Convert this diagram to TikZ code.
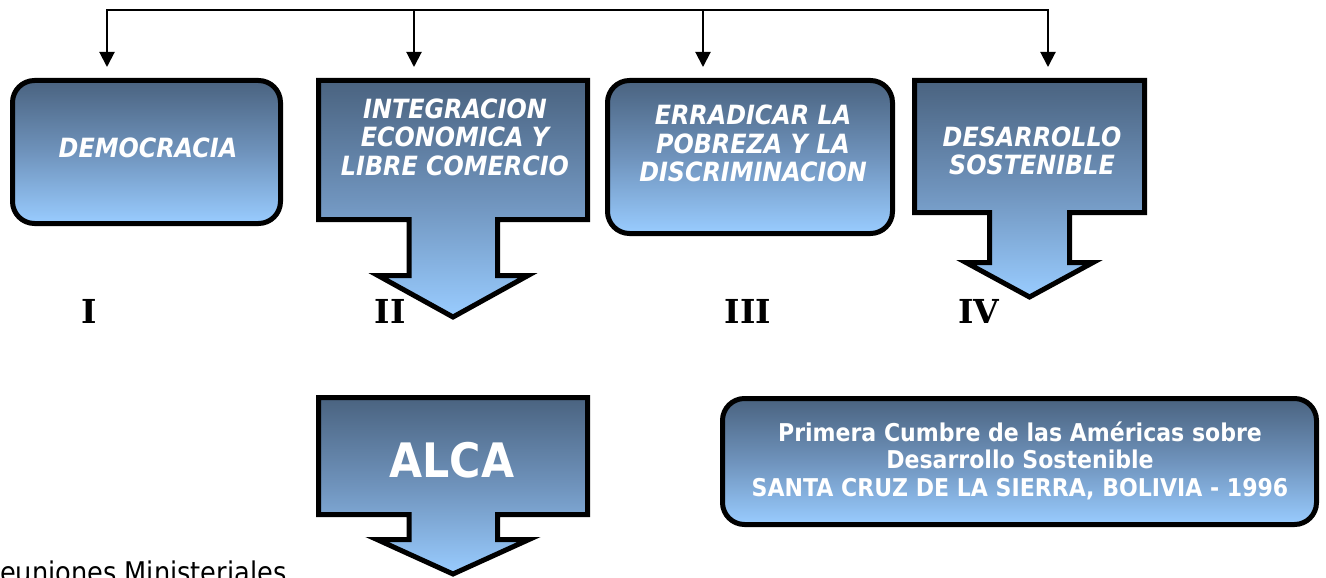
\documentclass[tikz,border=0pt]{standalone}
\usepackage{fontspec}
\setmainfont{DejaVu Sans}
\newfontfamily\tah[FakeStretch=0.9]{DejaVu Sans}
\newfontfamily\rom{DejaVu Serif}
\usetikzlibrary{arrows.meta}
\definecolor{topc}{HTML}{4A6380}
\definecolor{botc}{HTML}{99CCFF}
\definecolor{midc}{HTML}{6F93BC}
\tikzset{
  grad/.style={top color=topc, bottom color=botc, middle color=midc},
  outl/.style={draw=black, line width=5pt, line join=miter},
  rbox/.style={grad, outl, rounded corners=22pt, inner sep=0pt},
  itext/.style={text=white, inner sep=0pt, align=center,
    font=\tah\bfseries\itshape\fontsize{26.5}{28.5}\selectfont},
  stext/.style={text=white, inner sep=0pt, align=center,
    font=\tah\bfseries\fontsize{24.5}{27.5}\selectfont},
  atext/.style={text=white, inner sep=0pt,
    font=\tah\bfseries\fontsize{47.5}{47.5}\selectfont},
  roman/.style={inner sep=0pt, font=\rom\bfseries\fontsize{33}{33}\selectfont},
  plain/.style={inner sep=0pt, font=\tah\fontsize{28.5}{28.5}\selectfont},
  line/.style={line width=2pt},
  conn/.style={line width=2pt, -{Triangle[width=15pt,length=15pt]}, shorten >=11pt}
}
\begin{document}
\begin{tikzpicture}[x=1pt,y=-1pt]
\useasboundingbox (0,0) rectangle (1326,578);
\clip (0,0) rectangle (1326,578);

% box I
\node[rbox, minimum width=268pt, minimum height=143pt] (dem) at (146.5,152) {};
\node[itext] (demt) at (148,148) {DEMOCRACIA};

% box II (arrow callout)
\path[grad, outl] (318.5,80.5) -- (587.5,80.5) -- (587.5,219.5) -- (497.5,219.5)
  -- (497.5,275.5) -- (528,275.5) -- (453,317) -- (378,275.5) -- (409,275.5)
  -- (409,219.5) -- (318.5,219.5) -- cycle;
\coordinate (top2) at (453,78);
\node[itext] (intt) at (455,137) {INTEGRACION\\ECONOMICA Y\\LIBRE COMERCIO};

% box III
\node[rbox, minimum width=285pt, minimum height=153pt] (err) at (750,157) {};
\node[itext] (errt) at (753,143.5) {ERRADICAR LA\\POBREZA Y LA\\DISCRIMINACION};

% box IV (arrow callout)
\path[grad, outl] (914.5,80.5) -- (1144.5,80.5) -- (1144.5,212.5) -- (1069.5,212.5)
  -- (1069.5,262.5) -- (1093,262.5) -- (1029.5,297) -- (966,262.5) -- (989.5,262.5)
  -- (989.5,212.5) -- (914.5,212.5) -- cycle;
\coordinate (top4) at (1030,78);
\node[itext] (dest) at (1032,151) {DESARROLLO\\SOSTENIBLE};

% connectors
\coordinate (t1) at (107,10);
\coordinate (t2) at (414,10);
\coordinate (t3) at (703,10);
\coordinate (t4) at (1048,10);
\draw[line] (t2) -- (t3);
\draw[conn] (t2) -- (t1) -- (t1 |- dem.north);
\draw[conn] (t2) -- (t2 |- top2);
\draw[conn] (t3) -- (t3 |- err.north);
\draw[conn] (t3) -- (t4) -- (t4 |- top4);

% roman numerals
\node[roman] (r1) at (89,311) {I};
\node[roman] (r2) at (390,311) {II};
\node[roman] (r3) at (748,311) {III};
\node[roman] (r4) at (979,311) {IV};

% ALCA arrow
\path[grad, outl] (318.5,397.5) -- (587.5,397.5) -- (587.5,514.5) -- (497.5,514.5)
  -- (497.5,539.5) -- (529,539.5) -- (453,574) -- (377,539.5) -- (409,539.5)
  -- (409,514.5) -- (318.5,514.5) -- cycle;
\node[atext] (alca) at (452,460) {ALCA};

% summit box
\node[rbox, minimum width=594pt, minimum height=126pt] (cum) at (1019.5,461.5) {};
\node[stext] (cumt) at (1020,460.5) {Primera Cumbre de las Américas sobre\\Desarrollo Sostenible\\SANTA CRUZ DE LA SIERRA, BOLIVIA - 1996};

% bottom text
\node[plain, anchor=base west] (reu) at (0,582) {euniones Ministeriales};
\end{tikzpicture}
\end{document}
